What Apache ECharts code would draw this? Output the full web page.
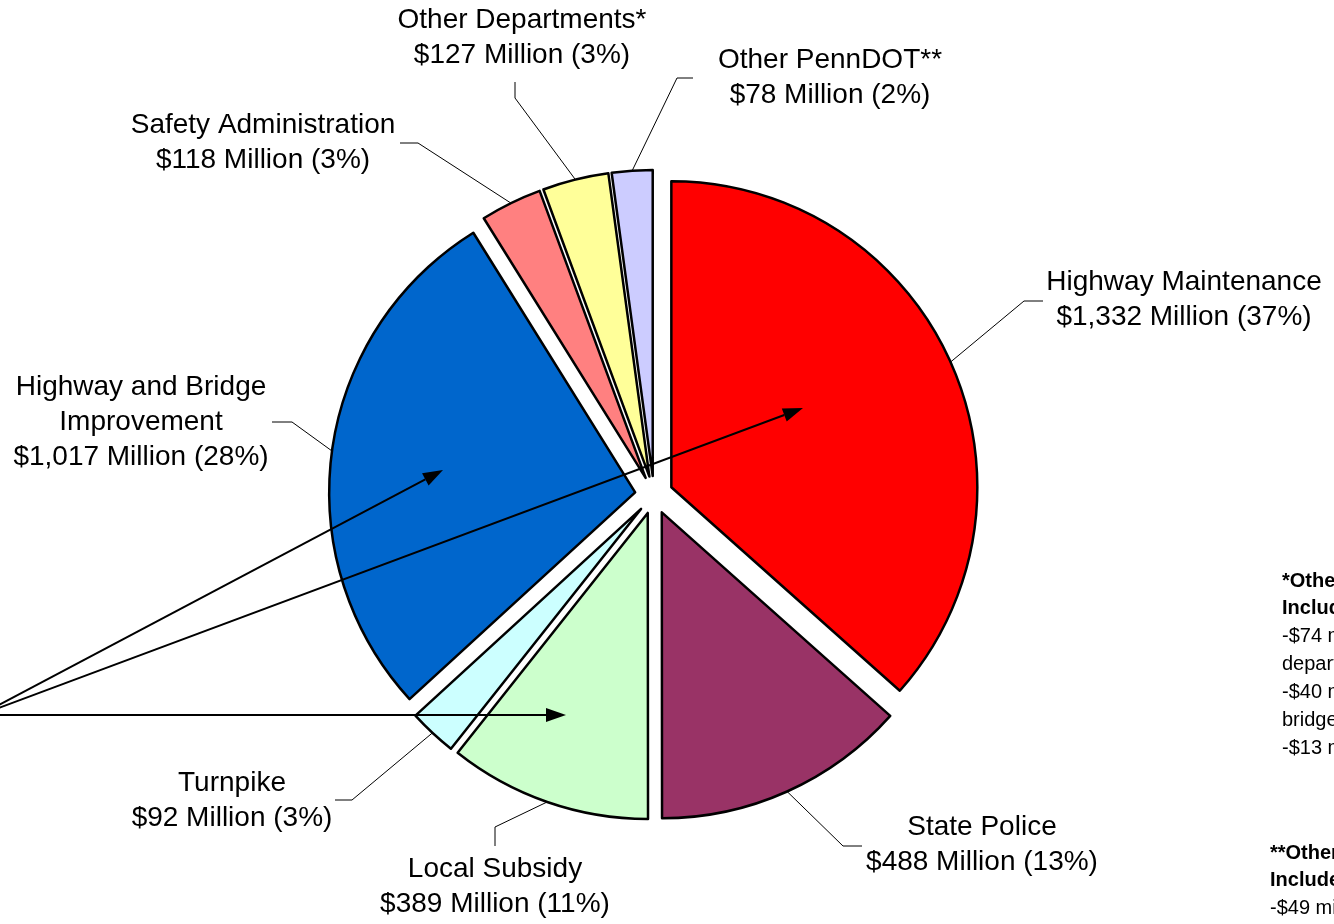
<!DOCTYPE html>
<html>
<head>
<meta charset="utf-8">
<script src="https://cdn.jsdelivr.net/npm/echarts@6/dist/echarts.min.js"></script>
<style>
  html, body { margin: 0; padding: 0; background: #fff; }
  #chart { width: 1334px; height: 924px; }
</style>
</head>
<body>
<div id="chart"></div>
<script>
// data
const categories = [
    'Highway Maintenance',
    'State Police',
    'Local Subsidy',
    'Turnpike',
    'Highway and Bridge\nImprovement',
    'Safety Administration',
    'Other Departments*',
    'Other PennDOT**'
];
const amounts = [1332, 488, 389, 92, 1017, 118, 127, 78];

const noteOtherDepts = ['*Other Departments', 'Includes:', '-$74 million for other', 'departments', '-$40 million for local', 'bridges', '-$13 million'];
const notePennDOT = ['**Other PennDOT', 'Includes:', '-$49 million'];

const sliceColors = ['#FF0000', '#993366', '#CCFFCC', '#CCFFFF', '#0066CC', '#FF8080', '#FFFF99', '#CCCCFF'];

const pieCenter = [654, 495];
const pieRadius = 306;
const explode = 19;

// where each label sits and how its leader line bends
const labelSpots = [
    { x: 1184, y: 300, elbow: [1024, 301], end: [1043, 301] },
    { x: 982,  y: 845, elbow: [843, 846],  end: [862, 846] },
    { x: 495,  y: 887, elbow: [495, 827],  end: [495, 846] },
    { x: 232,  y: 801, elbow: [352, 800],  end: [335, 800] },
    { x: 141,  y: 422, elbow: [292, 422],  end: [272, 422] },
    { x: 263,  y: 143, elbow: [418, 143],  end: [400, 143] },
    { x: 522,  y: 38,  elbow: [515, 98],   end: [515, 82] },
    { x: 830,  y: 78,  elbow: [677, 78],   end: [693, 78] }
];

const chartDom = document.getElementById('chart');
const myChart = echarts.init(chartDom);

// arrow annotations (line + filled head)
function arrow(x1, y1, x2, y2) {
    const a = Math.atan2(y2 - y1, x2 - x1);
    const len = 20, half = 7;
    const bx = x2 - len * Math.cos(a), by = y2 - len * Math.sin(a);
    return [
        {
            type: 'line',
            shape: { x1: x1, y1: y1, x2: bx, y2: by },
            style: { stroke: '#000', lineWidth: 2 },
            z: 100
        },
        {
            type: 'polygon',
            shape: {
                points: [
                    [x2, y2],
                    [bx + half * Math.sin(a), by - half * Math.cos(a)],
                    [bx - half * Math.sin(a), by + half * Math.cos(a)]
                ]
            },
            style: { fill: '#000' },
            z: 100
        }
    ];
}

function noteBlock(lines, left, top) {
    return lines.map((t, i) => ({
        type: 'text',
        left: left,
        top: top + i * 27.9,
        style: {
            text: t,
            fill: '#000',
            font: (i < 2 ? 'bold ' : '') + '20px "Liberation Sans", Arial, sans-serif'
        }
    }));
}

const pieData = categories.map((name, i) => ({ name: name, value: amounts[i] }));

const option = {
    backgroundColor: '#fff',
    animation: false,
    series: [
        // the exploded slices
        {
            type: 'pie',
            center: pieCenter,
            radius: pieRadius,
            startAngle: 90,
            clockwise: true,
            selectedMode: 'multiple',
            selectedOffset: explode,
            silent: true,
            itemStyle: { borderColor: '#000', borderWidth: 2.5 },
            select: { itemStyle: { borderColor: '#000', borderWidth: 2.5 } },
            emphasis: { disabled: true },
            label: { show: false },
            labelLine: { show: false },
            data: pieData.map((d, i) => ({
                name: d.name,
                value: d.value,
                selected: true,
                itemStyle: { color: sliceColors[i] }
            }))
        },
        // same pie, invisible, only carries the labels and leader lines
        {
            type: 'pie',
            center: pieCenter,
            radius: pieRadius,
            startAngle: 90,
            clockwise: true,
            silent: true,
            z: 3,
            avoidLabelOverlap: false,
            percentPrecision: 0,
            itemStyle: { color: 'rgba(0,0,0,0)', borderWidth: 0 },
            emphasis: { disabled: true },
            label: {
                show: true,
                color: '#000',
                fontFamily: '"Liberation Sans", Arial, sans-serif',
                fontSize: 28,
                lineHeight: 35,
                align: 'center',
                formatter(p) {
                    return p.name + '\n$' + p.value.toLocaleString('en-US') + ' Million (' + p.percent + '%)';
                }
            },
            labelLine: {
                show: true,
                smooth: false,
                lineStyle: { color: '#000', width: 1 }
            },
            labelLayout(params) {
                const s = labelSpots[params.dataIndex];
                const p0 = params.labelLinePoints ? params.labelLinePoints[0] : s.elbow;
                const dx = p0[0] - pieCenter[0], dy = p0[1] - pieCenter[1];
                const d = Math.hypot(dx, dy) || 1;
                const start = [p0[0] + explode * dx / d, p0[1] + explode * dy / d];
                return {
                    x: s.x,
                    y: s.y,
                    align: 'center',
                    verticalAlign: 'middle',
                    labelLinePoints: [start, s.elbow, s.end]
                };
            },
            data: pieData
        }
    ],
    graphic: [].concat(
        arrow(-20, 715, 443, 470),
        arrow(-20, 715, 803, 408),
        arrow(-20, 715, 566, 715),
        noteBlock(noteOtherDepts, 1282, 571),
        noteBlock(notePennDOT, 1270, 843)
    )
};

myChart.setOption(option);
window.addEventListener('resize', () => myChart.resize());
</script>
</body>
</html>
